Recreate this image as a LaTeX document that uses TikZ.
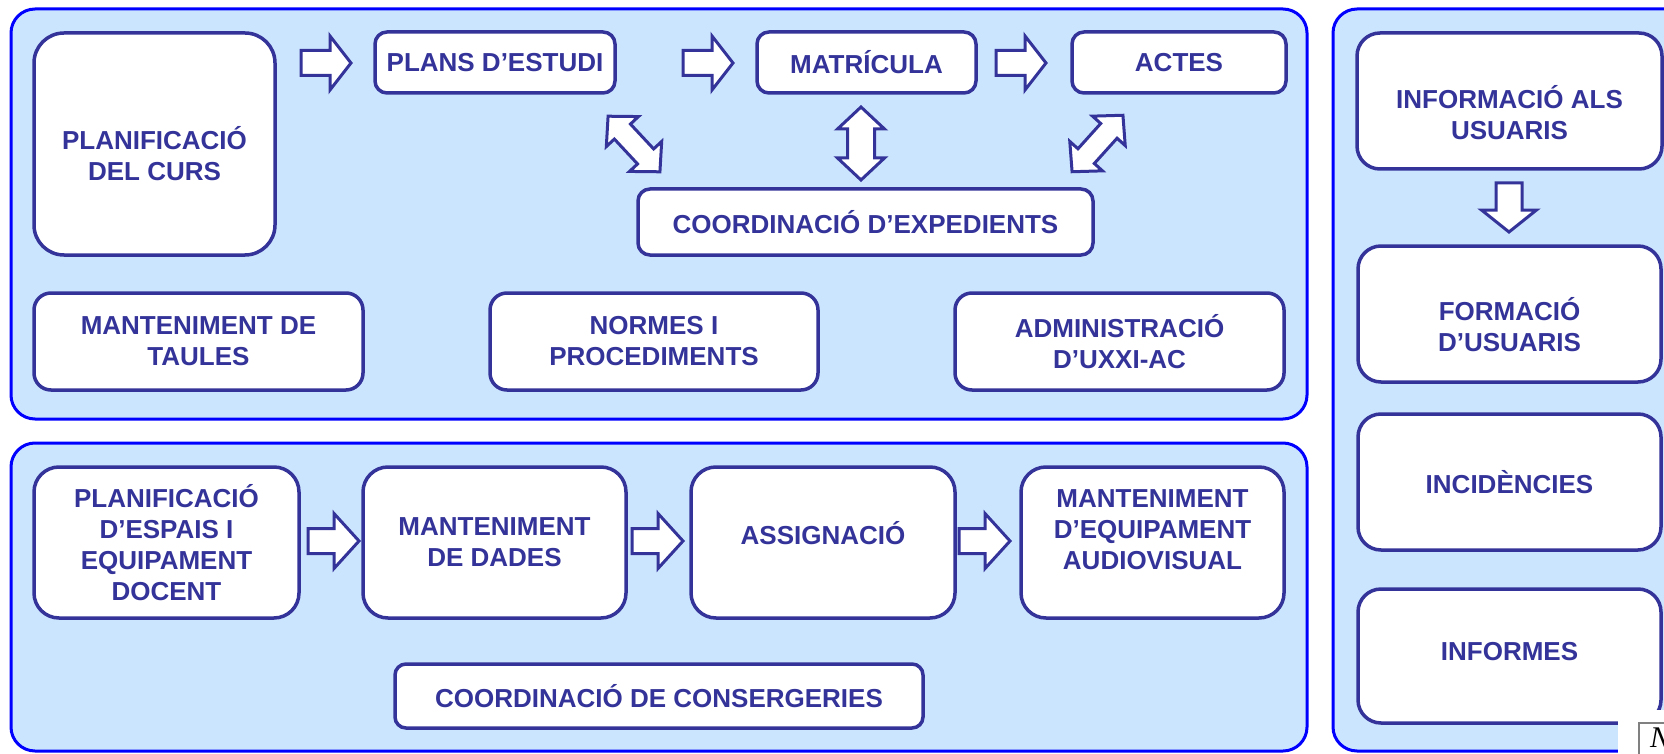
\documentclass[tikz,border=0pt]{standalone}
\usepackage{fontspec}
\setmainfont{Liberation Sans}
\newfontfamily\seriffont{Liberation Serif}
\definecolor{pblue}{RGB}{0,0,255}
\definecolor{pfill}{RGB}{204,229,255}
\definecolor{dblue}{RGB}{51,51,153}
\begin{document}
\begin{tikzpicture}[x=1pt,y=-1pt,
  panel/.style={draw=pblue, fill=pfill, line width=3pt, rounded corners=24pt},
  box/.style={draw=dblue, fill=white, line width=3.5pt, inner sep=0pt, rectangle},
  txt/.style={text=dblue, font=\bfseries\fontsize{26}{31}\selectfont, align=center, inner sep=0pt},
  barrow/.style={draw=dblue, fill=white, line width=3pt, line join=miter}]
\clip (0,0) rectangle (1664,754);
\fill[white] (0,0) rectangle (1664,754);
% panels
\draw[panel] (11,9) rectangle (1307,419);
\draw[panel] (11,443) rectangle (1307,751);
\draw[panel] (1333,9) rectangle (1720,751);
% top panel boxes
\node[box, rounded corners=30pt, minimum width=241pt, minimum height=222pt] (plan) at (154.5,144) {};
\node[txt] (plan-t) at ([yshift=-10pt]plan.center) {PLANIFICACIÓ\\DEL CURS};
\node[box, rounded corners=12pt, minimum width=240pt, minimum height=61pt] (plans) at (495,62.5) {};
\node[txt] (plans-t) at (plans.center) {PLANS D’ESTUDI};
\node[box, rounded corners=12pt, minimum width=219pt, minimum height=61pt] (matr) at (866.5,62.5) {};
\node[txt] (matr-t) at (matr.center) {MATRÍCULA};
\node[box, rounded corners=12pt, minimum width=214pt, minimum height=61pt] (actes) at (1179,62.5) {};
\node[txt] (actes-t) at (actes.center) {ACTES};
\node[box, rounded corners=12pt, minimum width=455pt, minimum height=66pt] (coord) at (865.5,222) {};
\node[txt] (coord-t) at (coord.center) {COORDINACIÓ D’EXPEDIENTS};
\node[box, rounded corners=17pt, minimum width=329pt, minimum height=97pt] (mant) at (198.5,341.5) {};
\node[txt] (mant-t) at (mant.center) {MANTENIMENT DE\\TAULES};
\node[box, rounded corners=17pt, minimum width=328pt, minimum height=97pt] (normes) at (654,341.5) {};
\node[txt] (normes-t) at (normes.center) {NORMES I\\PROCEDIMENTS};
\node[box, rounded corners=17pt, minimum width=329pt, minimum height=97pt] (admin) at (1119.5,341.5) {};
\node[txt] (admin-t) at (admin.center) {ADMINISTRACIÓ\\D’UXXI-AC};
% top arrows
\draw[barrow, shift={(351,63)}] (-50,-12.5) -- (-21,-12.5) -- (-21,-27) -- (0,0) -- (-21,27) -- (-21,12.5) -- (-50,12.5) -- cycle;
\draw[barrow, shift={(733,63)}] (-50,-12.5) -- (-21,-12.5) -- (-21,-27) -- (0,0) -- (-21,27) -- (-21,12.5) -- (-50,12.5) -- cycle;
\draw[barrow, shift={(1046,63)}] (-50,-12.5) -- (-21,-12.5) -- (-21,-27) -- (0,0) -- (-21,27) -- (-21,12.5) -- (-50,12.5) -- cycle;
% double arrows
\draw[barrow, shift={(634,144)}, rotate=-47] (-38,0) -- (-17,22) -- (-17,11) -- (17,11) -- (17,22) -- (38,0) -- (17,-22) -- (17,-11) -- (-17,-11) -- (-17,-22) -- cycle;
\draw[barrow, shift={(861,143.5)}, rotate=-90] (-36.5,0) -- (-14.5,23.5) -- (-14.5,13.5) -- (14.5,13.5) -- (14.5,23.5) -- (36.5,0) -- (14.5,-23.5) -- (14.5,-13.5) -- (-14.5,-13.5) -- (-14.5,-23.5) -- cycle;
\draw[barrow, shift={(1097.5,143.5)}, rotate=48] (-38,0) -- (-17,22) -- (-17,11) -- (17,11) -- (17,22) -- (38,0) -- (17,-22) -- (17,-11) -- (-17,-11) -- (-17,-22) -- cycle;
% bottom panel boxes
\node[box, rounded corners=25pt, minimum width=265pt, minimum height=151pt] (pe) at (166.5,542.5) {};
\node[txt] (pe-t) at (pe.center) {PLANIFICACIÓ\\D’ESPAIS I\\EQUIPAMENT\\DOCENT};
\node[box, rounded corners=25pt, minimum width=263pt, minimum height=151pt] (dades) at (494.5,542.5) {};
\node[txt] (dades-t) at (dades.center) {MANTENIMENT\\DE DADES};
\node[box, rounded corners=25pt, minimum width=264pt, minimum height=151pt] (assig) at (823,542.5) {};
\node[txt] (assig-t) at ([yshift=9.5pt]assig.center) {ASSIGNACIÓ};
\node[box, rounded corners=25pt, minimum width=263pt, minimum height=151pt] (audio) at (1152.5,542.5) {};
\node[txt] (audio-t) at ([yshift=12.5pt]audio.center) {MANTENIMENT\\D’EQUIPAMENT\\AUDIOVISUAL};
\node[box, rounded corners=11pt, minimum width=528pt, minimum height=64pt] (cons) at (659,696) {};
\node[txt] (cons-t) at (cons.center) {COORDINACIÓ DE CONSERGERIES};
% bottom arrows
\draw[barrow, shift={(359,541)}] (-51,-12.5) -- (-25,-12.5) -- (-25,-27.5) -- (0,0) -- (-25,27.5) -- (-25,12.5) -- (-51,12.5) -- cycle;
\draw[barrow, shift={(683,541)}] (-51,-12.5) -- (-25,-12.5) -- (-25,-27.5) -- (0,0) -- (-25,27.5) -- (-25,12.5) -- (-51,12.5) -- cycle;
\draw[barrow, shift={(1010,541)}] (-51,-12.5) -- (-25,-12.5) -- (-25,-27.5) -- (0,0) -- (-25,27.5) -- (-25,12.5) -- (-51,12.5) -- cycle;
% right panel boxes
\node[box, rounded corners=23pt, minimum width=305pt, minimum height=136pt] (info) at (1509.5,101) {};
\node[txt] (info-t) at ([yshift=-11.5pt]info.center) {INFORMACIÓ ALS\\USUARIS};
\node[box, rounded corners=23pt, minimum width=303pt, minimum height=136pt] (form) at (1509.5,314) {};
\node[txt] (form-t) at ([yshift=-11pt]form.center) {FORMACIÓ\\D’USUARIS};
\node[box, rounded corners=23pt, minimum width=303pt, minimum height=136pt] (incid) at (1509.5,482) {};
\node[txt] (incid-t) at (incid.center) {INCIDÈNCIES};
\node[box, rounded corners=23pt, minimum width=303pt, minimum height=134pt] (informes) at (1509.5,656) {};
\node[txt] (informes-t) at ([yshift=4pt]informes.center) {INFORMES};
% down arrow
\draw[barrow, shift={(1509,232)}, rotate=-90] (-49,-13) -- (-22,-13) -- (-22,-27.5) -- (0,0) -- (-22,27.5) -- (-22,13) -- (-49,13) -- cycle;
% corner N box
\fill[white] (1618,710) rectangle (1700,780);
\draw[gray, line width=1.5pt] (1639,723) rectangle (1720,790);
\node[font=\seriffont\itshape\fontsize{30}{32}\selectfont, anchor=north west, inner sep=0pt] (nmark) at (1650,728) {N};
\end{tikzpicture}
\end{document}
